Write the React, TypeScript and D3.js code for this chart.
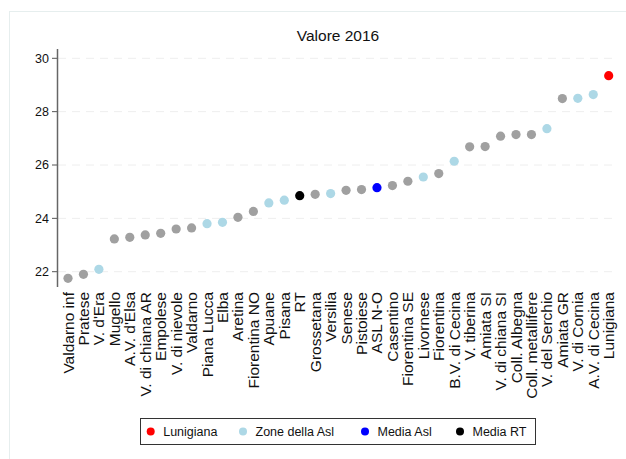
import * as d3 from "d3";

const zones = [
  "Valdarno inf", "Pratese", "V. d'Era", "Mugello", "A.V. d'Elsa", "V. di chiana AR",
  "Empolese", "V. di nievole", "Valdarno", "Piana Lucca", "Elba", "Aretina",
  "Fiorentina NO", "Apuane", "Pisana", "RT", "Grossetana", "Versilia", "Senese",
  "Pistoiese", "ASL N-O", "Casentino", "Fiorentina SE", "Livornese", "Fiorentina",
  "B.V. di Cecina", "V. tiberina", "Amiata SI", "V. di chiana SI", "Coll. Albegna",
  "Coll. metallifere", "V. del Serchio", "Amiata GR", "V. di Cornia", "A.V. di Cecina",
  "Lunigiana",
];

const values = [
  21.75, 21.9, 22.09, 23.23, 23.29, 23.38, 23.44, 23.6, 23.64, 23.8, 23.85, 24.04,
  24.26, 24.58, 24.68, 24.85, 24.9, 24.93, 25.05, 25.08, 25.15, 25.23, 25.39, 25.55,
  25.68, 26.14, 26.68, 26.69, 27.08, 27.14, 27.14, 27.36, 28.49, 28.5, 28.64, 29.35,
];

// group of each zone: o = other zone, z = zone of the Asl, a = Asl mean, r = RT mean, l = Lunigiana
const groups = [
  "o", "o", "z", "o", "o", "o", "o", "o", "o", "z", "z", "o",
  "o", "z", "z", "r", "o", "z", "o", "o", "a", "o", "o", "z",
  "o", "z", "o", "o", "o", "o", "o", "z", "o", "z", "z", "l",
];

const yTicks = [22, 24, 26, 28, 30];

const legendLabels = ["Lunigiana", "Zone della Asl", "Media Asl", "Media RT"];
const legendKeys = ["l", "z", "a", "r"];

const colors: Record<string, string> = {
  o: "#a0a0a0",
  z: "#add8e6",
  a: "#0000ff",
  r: "#000000",
  l: "#ff0000",
};

const W = 626;
const H = 459;
const font = "Liberation Sans, Arial, sans-serif";

export default function App() {
  const x = d3
    .scalePoint<string>()
    .domain(zones)
    .range([68, 608.7]);
  const y = d3.scaleLinear().domain([22, 30]).range([271.7, 58.3]);

  const legendX = [150.7, 243, 365, 460];

  return (
    <svg
      width={W}
      height={H}
      style={{ position: "absolute", left: 0, top: 0, fontFamily: font }}
    >
      <rect x={0} y={0} width={W} height={H} fill="#fff" />
      <rect x={9.5} y={11.5} width={630} height={460} fill="none" stroke="#e6eeee" />
      <text x={338} y={41} textAnchor="middle" fontSize={15.5} fill="#111">
        Valore 2016
      </text>

      {yTicks.map((t) => (
        <g key={t}>
          <line
            x1={58}
            x2={618}
            y1={y(t)}
            y2={y(t)}
            stroke="#eeeeee"
            strokeDasharray="8 6"
          />
          <line x1={52} x2={57.5} y1={y(t)} y2={y(t)} stroke="#555" />
          <text x={49} y={y(t)} dy="0.35em" textAnchor="end" fontSize={12.5} fill="#111">
            {t}
          </text>
        </g>
      ))}
      <line x1={57.5} x2={57.5} y1={49} y2={287} stroke="#666" strokeWidth={1.5} />

      {zones.map((z, i) => (
        <circle key={z} cx={x(z)} cy={y(values[i])} r={4.6} fill={colors[groups[i]]} />
      ))}

      {zones.map((z) => (
        <text
          key={z}
          transform={`translate(${(x(z) ?? 0) + 5.5},292) rotate(-90)`}
          textAnchor="end"
          fontSize={15.5}
          fill="#111"
        >
          {z}
        </text>
      ))}

      <rect x={140.5} y={418.5} width={395} height={26} fill="#fff" stroke="#333" />
      {legendLabels.map((l, i) => (
        <g key={l}>
          <circle cx={legendX[i]} cy={431.5} r={4} fill={colors[legendKeys[i]]} />
          <text x={legendX[i] + 12.5} y={431.5} dy="0.35em" fontSize={12.5} fill="#111">
            {l}
          </text>
        </g>
      ))}
    </svg>
  );
}
